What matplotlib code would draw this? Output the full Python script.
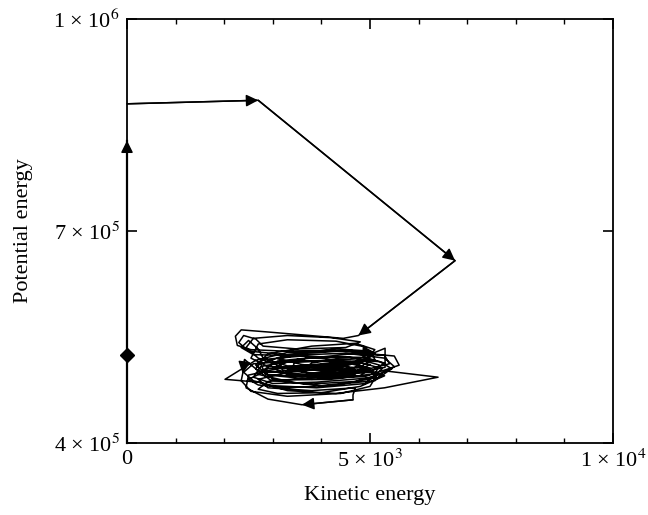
import matplotlib
matplotlib.use('Agg')
import matplotlib.pyplot as plt

plt.rcParams['font.family'] = ['Liberation Serif', 'DejaVu Serif']
plt.rcParams['mathtext.fontset'] = 'stix'

# trajectory: kinetic energy and potential energy (in thousands)
kinetic = [
    0, 2700, 6750, 4760,
    4450, 3600, 2900, 2350, 2230, 2270, 2550, 3200, 4200, 5100, 5310, 5310,
    4800, 3700, 2700, 2420, 2380, 2350, 2550, 3300, 4400, 5000, 5150, 4600,
    3600, 2800, 2650, 2950, 4000, 5100, 5300, 6400, 5300, 4300, 3300, 2700,
    2017, 2650, 3300, 4400, 5500, 5600, 4900, 3800, 2900, 2650, 2900, 3800,
    4700, 5100, 4900, 3900, 2900, 2550, 2700, 3300, 4300, 4900, 5000, 4400,
    3300, 2700, 2900, 3800, 4700, 4650, 4650, 3600, 2900, 2450, 2500, 3100,
    4100, 4900, 5200, 4700, 3700, 3000, 2800, 3100, 4000, 4900, 5300, 5000,
    4100, 3300, 3000, 3300, 4200, 4800, 4600, 3800, 3200, 3150, 3700, 4500,
    5000, 4800, 4000, 3400, 3450, 4100, 4600, 4300, 3700, 3800,
    4300, 5200, 5450, 5000, 3900, 3000, 2600, 2750, 3500, 4600, 5300, 5400,
    4700, 3600, 2850, 2750, 3300, 4300, 5000, 5100, 4300, 3300, 2800, 2700,
    2500, 2350, 2600, 3600, 4700, 5200, 5100, 4200, 3200, 2700, 2900, 3800,
    4800, 5250, 4900, 3900, 3000, 2600, 2400, 2600, 3400, 4400, 5000, 4800,
    4000, 3400, 3300, 3900, 4500, 4700, 4200, 3600, 3500, 4000, 4600, 5000,
    4700, 3900,
    3300, 2700, 2450, 2600, 3300, 4200, 4800, 4500, 3500, 2800, 2650, 2400,
    2300, 2500, 3400, 4500, 5300, 5500, 5200, 4300, 3300, 2700, 2500, 2800,
    3800, 4900, 5300, 4800, 4000, 3100, 2700, 2900, 3900, 4700, 4400, 3600,
    3100, 3700, 4600, 5100,
]
potential_k = [
    880, 885, 658, 552,
    548, 553, 557, 560, 551, 538, 532, 530, 531, 528, 534, 507,
    500, 497, 502, 518, 498, 488, 473, 466, 470, 480, 497, 515,
    523, 518, 505, 489, 481, 488, 502, 493, 478, 470, 474, 486,
    490, 517, 528, 530, 523, 510, 494, 490, 496, 510, 526, 537,
    541, 532, 517, 507, 508, 520, 540, 546, 544, 536, 521, 508,
    500, 490, 478, 474, 478, 468, 461, 454, 462, 478, 496, 505,
    509, 506, 497, 487, 483, 490, 503, 516, 522, 521, 513, 500,
    495, 497, 506, 515, 517, 512, 503, 499, 503, 512, 520, 522,
    517, 507, 502, 506, 514, 516, 511, 505, 508, 513,
    519, 515, 505, 492, 486, 484, 493, 508, 518, 526, 524, 512,
    500, 494, 497, 512, 525, 533, 530, 518, 510, 509, 520, 533,
    545, 535, 525, 523, 520, 510, 498, 490, 489, 497, 505, 510,
    514, 505, 484, 478, 481, 488, 500, 512, 516, 515, 506, 495,
    493, 495, 503, 507, 509, 503, 498, 500, 508, 512, 515, 511,
    501, 497,
    505, 520, 535, 548, 552, 549, 543, 535, 533, 537, 547, 552,
    542, 530, 524, 527, 520, 508, 493, 482, 478, 482, 490, 500,
    504, 503, 495, 480, 471, 470, 476, 487, 493, 496, 505, 511,
    519, 527, 531, 526,
]
arrow_at = [1, 2, 3, 13, 20, 71]

# second run sitting on the potential axis
axis_run_ke = [0, 0]
axis_run_pe_k = [400, 828]
axis_start_pe_k = 524

x_ticks = [0, 5000, 10000]
x_ticklabels = ['0', '5 × 10$^{3}$', '1 × 10$^{4}$']
y_ticks = [4e5, 7e5, 1e6]
y_ticklabels = ['4 × 10$^{5}$', '7 × 10$^{5}$', '1 × 10$^{6}$']

potential = [v * 1000 for v in potential_k]

fig = plt.figure(figsize=(6.48, 5.15), dpi=100)
ax = fig.add_axes([0.196, 0.140, 0.750, 0.823])

ax.plot(kinetic, potential, color='k', lw=1.1)

arrow_style = dict(arrowstyle='-|>,head_length=0.6,head_width=0.3', color='k',
                   lw=1.1, mutation_scale=12, shrinkA=0, shrinkB=0)
for i in arrow_at:
    ax.annotate('', xy=(kinetic[i], potential[i]),
                xytext=(kinetic[i - 1], potential[i - 1]), arrowprops=arrow_style)

axis_pe = [v * 1000 for v in axis_run_pe_k]
ax.plot(axis_run_ke, axis_pe, color='k', lw=1.6, clip_on=False, zorder=5)
ax.annotate('', xy=(axis_run_ke[1], axis_pe[1]),
            xytext=(axis_run_ke[0], axis_pe[0]),
            arrowprops=arrow_style, annotation_clip=False)
ax.plot([0], [axis_start_pe_k * 1000], marker='D', color='k', markersize=7,
        clip_on=False, zorder=6)

ax.set_xlim(0, 10000)
ax.set_ylim(4e5, 1e6)
ax.set_xticks(x_ticks)
ax.set_xticklabels(x_ticklabels)
ax.set_xticks(range(1000, 10000, 1000), minor=True)
ax.set_yticks(y_ticks)
ax.set_yticklabels(y_ticklabels)

ax.tick_params(which='both', direction='in', top=True, right=True, labelsize=16)
ax.tick_params(which='major', length=7, width=1.2, pad=5)
ax.tick_params(which='minor', length=3.5, width=1.0)
for s in ax.spines.values():
    s.set_linewidth(1.3)

ax.set_xlabel('Kinetic energy', fontsize=16, labelpad=10)
ax.set_ylabel('Potential energy', fontsize=16, labelpad=15)

fig.savefig('out.png', dpi=100)
